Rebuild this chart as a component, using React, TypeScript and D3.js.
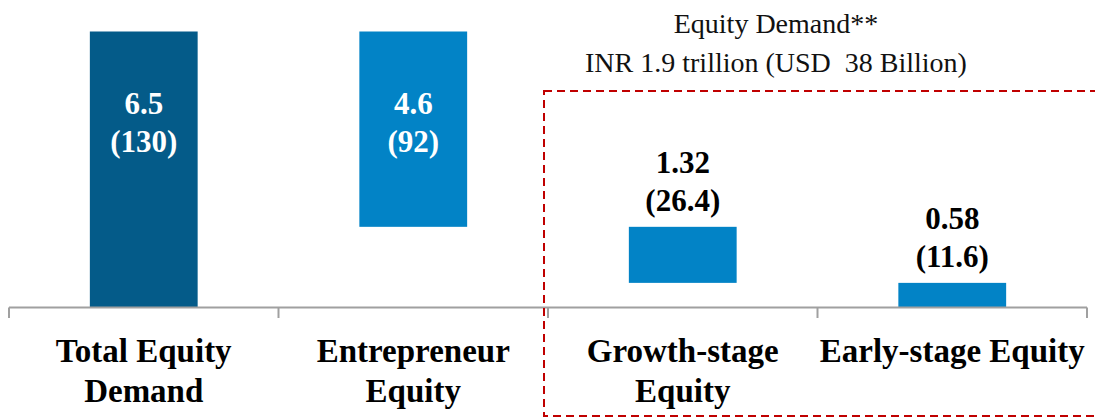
import React from 'react'
import * as d3 from 'd3'

const width = 1095
const height = 419

const categories = ['Total Equity Demand', 'Entrepreneur Equity', 'Growth-stage Equity', 'Early-stage Equity']
const labelLines = [['Total Equity', 'Demand'], ['Entrepreneur', 'Equity'], ['Growth-stage', 'Equity'], ['Early-stage Equity']]
const inrTrillion = [6.5, 4.6, 1.32, 0.58]
const usdBillion = ['130', '92', '26.4', '11.6']
const kinds = ['total', 'step', 'step', 'step']
const titleLines = ['Equity Demand**', 'INR 1.9 trillion (USD\u00a0\u00a038 Billion)']

const font = 'Liberation Serif, Times New Roman, serif'

const buildBars = () => {
  let level = 0
  return categories.map((c, i) => {
    let lo, hi
    if (kinds[i] === 'total') {
      lo = 0
      hi = inrTrillion[i]
      level = hi
    } else {
      hi = level
      lo = level - inrTrillion[i]
      level = lo
    }
    return { c, lo, hi, i }
  })
}

const App = () => {
  const x = d3
    .scaleBand()
    .domain(categories)
    .range([9, 1087])
    .paddingInner(0.6)
    .paddingOuter(0.3)
  const axisX = d3.scaleBand().domain(categories).range([9, 1087]).padding(0)
  const y = d3.scaleLinear().domain([0, 6.5]).range([307.5, 31.5])
  const bars = buildBars()
  const ticks = categories.map(c => axisX(c)).concat([1087])

  return (
    <svg width={width} height={height} style={{ position: 'absolute', left: 0, top: 0, fontFamily: font }}>
      {bars.map(({ c, lo, hi, i }) => {
        const cx = x(c) + x.bandwidth() / 2
        const inside = i < 2
        const top = y(hi)
        return (
          <g key={c}>
            <rect x={x(c)} y={top} width={x.bandwidth()} height={y(lo) - y(hi)} fill={i === 0 ? '#045b89' : '#0283c6'} />
            <text
              x={cx}
              y={inside ? top + 82 : top - 54}
              textAnchor="middle"
              fontWeight="bold"
              fontSize={31}
              fill={inside ? '#fff' : '#000'}
            >
              {inrTrillion[i]}
            </text>
            <text
              x={cx}
              y={inside ? top + 120 : top - 16}
              textAnchor="middle"
              fontWeight="bold"
              fontSize={31}
              fill={inside ? '#fff' : '#000'}
            >
              ({usdBillion[i]})
            </text>
            {labelLines[i].map((l, j) => (
              <text key={j} x={axisX(c) + axisX.bandwidth() / 2} y={362 + j * 40} textAnchor="middle" fontWeight="bold" fontSize={33} fill="#000">
                {l}
              </text>
            ))}
          </g>
        )
      })}
      <line x1={9} x2={1087} y1={307.5} y2={307.5} stroke="#a0a0a0" strokeWidth={2} />
      {ticks.map((t, i) => (
        <line key={i} x1={t} x2={t} y1={307.5} y2={318} stroke="#a0a0a0" strokeWidth={2} />
      ))}
      <rect x={544} y={91} width={600} height={325} fill="none" stroke="#c00000" strokeWidth={2} strokeDasharray="8,5" />
      {titleLines.map((t, i) => (
        <text key={i} x={776} y={33 + i * 39} textAnchor="middle" fontSize={28} fill="#111">
          {t}
        </text>
      ))}
    </svg>
  )
}

export default App
